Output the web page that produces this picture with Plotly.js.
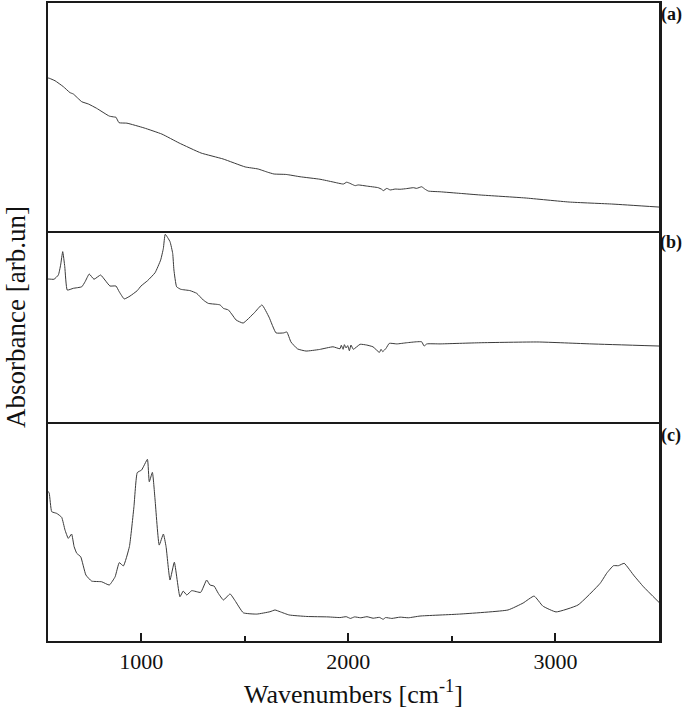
<!DOCTYPE html>
<html>
<head>
<meta charset="utf-8">
<script src="https://cdn.plot.ly/plotly-3.0.1.min.js"></script>
<style>html,body{margin:0;padding:0;background:#fff;}#chart{width:685px;height:709px;}</style>
</head>
<body>
<div id="chart"></div>
<script>
// Panel (a)
const wnA = [550, 556, 584, 624, 656, 672, 713, 745, 785, 846, 870, 878, 893, 931, 1014, 1100, 1183, 1289, 1395, 1502, 1564, 1610, 1641, 1700, 1767, 1863, 1926, 1976, 1992, 2008, 2017, 2033, 2048, 2089, 2144, 2161, 2169, 2186, 2202, 2226, 2250, 2282, 2314, 2330, 2354, 2371, 2387, 2443, 2540, 2636, 2853, 3066, 3278, 3500];
const absA = [0.671, 0.670, 0.659, 0.633, 0.607, 0.601, 0.567, 0.557, 0.538, 0.504, 0.500, 0.499, 0.475, 0.473, 0.452, 0.425, 0.386, 0.342, 0.316, 0.281, 0.272, 0.258, 0.250, 0.248, 0.238, 0.227, 0.215, 0.206, 0.214, 0.209, 0.205, 0.199, 0.202, 0.197, 0.190, 0.183, 0.177, 0.187, 0.180, 0.184, 0.183, 0.186, 0.190, 0.187, 0.194, 0.183, 0.175, 0.172, 0.165, 0.158, 0.145, 0.127, 0.118, 0.105];

// Panel (b)
const wnB = [550, 556, 579, 600, 611, 621, 631, 643, 672, 713, 729, 749, 772, 804, 825, 849, 878, 894, 918, 946, 981, 999, 1030, 1067, 1094, 1107, 1116, 1139, 1152, 1158, 1171, 1191, 1236, 1268, 1300, 1324, 1365, 1381, 1397, 1421, 1440, 1458, 1492, 1545, 1583, 1617, 1651, 1688, 1703, 1723, 1755, 1796, 1860, 1926, 1960, 1966, 1975, 1981, 1989, 1997, 2005, 2013, 2024, 2057, 2089, 2119, 2150, 2158, 2166, 2182, 2198, 2234, 2282, 2330, 2354, 2366, 2379, 2443, 2636, 2916, 3172, 3500];
const absB = [0.751, 0.751, 0.750, 0.772, 0.824, 0.893, 0.815, 0.694, 0.703, 0.711, 0.737, 0.777, 0.750, 0.772, 0.746, 0.715, 0.715, 0.685, 0.648, 0.663, 0.691, 0.715, 0.742, 0.784, 0.850, 0.910, 0.983, 0.945, 0.884, 0.798, 0.711, 0.698, 0.691, 0.677, 0.642, 0.625, 0.620, 0.617, 0.599, 0.591, 0.565, 0.539, 0.523, 0.575, 0.617, 0.554, 0.472, 0.472, 0.477, 0.425, 0.389, 0.378, 0.386, 0.400, 0.390, 0.408, 0.387, 0.411, 0.394, 0.406, 0.380, 0.409, 0.387, 0.413, 0.409, 0.400, 0.371, 0.387, 0.375, 0.392, 0.418, 0.415, 0.421, 0.426, 0.426, 0.404, 0.415, 0.415, 0.421, 0.425, 0.415, 0.404];

// Panel (c)
const wnC = [550, 556, 568, 592, 616, 632, 648, 664, 676, 689, 708, 733, 761, 809, 846, 874, 894, 914, 943, 965, 981, 1002, 1030, 1039, 1054, 1067, 1087, 1107, 1120, 1139, 1160, 1187, 1203, 1220, 1244, 1287, 1316, 1332, 1352, 1372, 1397, 1429, 1453, 1493, 1558, 1622, 1646, 1670, 1714, 1800, 1902, 1960, 1990, 2010, 2030, 2060, 2090, 2120, 2150, 2168, 2180, 2210, 2250, 2290, 2346, 2537, 2771, 2844, 2897, 2939, 3003, 3109, 3216, 3248, 3280, 3304, 3332, 3352, 3377, 3425, 3500];
const absC = [0.690, 0.681, 0.596, 0.588, 0.570, 0.512, 0.473, 0.493, 0.435, 0.404, 0.388, 0.304, 0.276, 0.273, 0.258, 0.296, 0.361, 0.346, 0.435, 0.619, 0.776, 0.788, 0.837, 0.734, 0.777, 0.650, 0.442, 0.493, 0.435, 0.281, 0.363, 0.204, 0.230, 0.212, 0.232, 0.224, 0.281, 0.258, 0.253, 0.220, 0.189, 0.217, 0.186, 0.130, 0.124, 0.135, 0.143, 0.135, 0.120, 0.113, 0.111, 0.108, 0.112, 0.104, 0.111, 0.107, 0.112, 0.105, 0.109, 0.100, 0.108, 0.104, 0.110, 0.107, 0.115, 0.124, 0.143, 0.175, 0.207, 0.161, 0.134, 0.166, 0.266, 0.313, 0.347, 0.347, 0.358, 0.336, 0.304, 0.250, 0.178];

const tickVals = [1000, 2000, 3000];
const tickText = ['1000', '2000', '3000'];
const panelLabels = ['(a)', '(b)', '(c)'];
const xTitle = 'Wavenumbers [cm<sup>-1</sup>]';
const yTitle = 'Absorbance [arb.un]';

const SERIF = 'Liberation Serif, Times New Roman, serif';
const lineStyle = {color: '#3a3a3a', width: 1, shape: 'spline', smoothing: 0.4};

const traces = [
  {x: wnA, y: absA, xaxis: 'x3', yaxis: 'y3', mode: 'lines', line: lineStyle, hoverinfo: 'skip'},
  {x: wnB, y: absB, xaxis: 'x2', yaxis: 'y2', mode: 'lines', line: lineStyle, hoverinfo: 'skip'},
  {x: wnC, y: absC, xaxis: 'x', yaxis: 'y', mode: 'lines', line: lineStyle, hoverinfo: 'skip'}
];

const frameColor = '#1a1a1a';
const baseX = {
  range: [550, 3500], showline: true, mirror: true, linewidth: 2, linecolor: frameColor,
  showgrid: false, zeroline: false, fixedrange: true
};
const baseY = {
  range: [0, 1], showline: true, mirror: true, linewidth: 2.5, linecolor: frameColor,
  showgrid: false, zeroline: false, ticks: '', showticklabels: false, fixedrange: true
};

const hC = 217 / 638, hB = 410 / 638;

const layout = {
  width: 685, height: 709,
  margin: {l: 48, r: 26, t: 3, b: 68},
  paper_bgcolor: '#ffffff', plot_bgcolor: '#ffffff',
  showlegend: false,
  font: {family: SERIF, color: '#111'},
  xaxis: Object.assign({}, baseX, {
    anchor: 'y', tickmode: 'array', tickvals: tickVals, ticktext: tickText,
    ticks: 'inside', ticklen: 8, tickwidth: 2, tickcolor: frameColor,
    tickfont: {family: SERIF, size: 22, color: '#111'},
    minor: {tickmode: 'array', tickvals: [1500, 2500], ticks: 'inside', ticklen: 5, tickwidth: 1.5, tickcolor: frameColor, showgrid: false}
  }),
  xaxis2: Object.assign({}, baseX, {anchor: 'y2', matches: 'x', ticks: '', showticklabels: false, showline: false}),
  xaxis3: Object.assign({}, baseX, {anchor: 'y3', matches: 'x', ticks: '', showticklabels: false}),
  yaxis: Object.assign({}, baseY, {domain: [0, hC], anchor: 'x'}),
  yaxis2: Object.assign({}, baseY, {domain: [hC, hB], anchor: 'x2'}),
  yaxis3: Object.assign({}, baseY, {domain: [hB, 1], anchor: 'x3'}),
  annotations: [
    {text: xTitle, xref: 'paper', yref: 'paper', x: 0.5, y: -(692 - 641) / 638, xanchor: 'center', yanchor: 'middle', showarrow: false, font: {family: SERIF, size: 26, color: '#111'}},
    {text: yTitle, xref: 'paper', yref: 'paper', x: -(48 - 16) / 611, y: (641 - 317) / 638, xanchor: 'center', yanchor: 'middle', textangle: -90, showarrow: false, font: {family: SERIF, size: 27, color: '#111'}},
    {text: '<b>' + panelLabels[0] + '</b>', xref: 'paper', yref: 'paper', x: (671 - 48) / 611, y: (641 - 14) / 638, xanchor: 'center', yanchor: 'middle', showarrow: false, font: {family: SERIF, size: 18, color: '#111'}},
    {text: '<b>' + panelLabels[1] + '</b>', xref: 'paper', yref: 'paper', x: (671 - 48) / 611, y: (641 - 242) / 638, xanchor: 'center', yanchor: 'middle', showarrow: false, font: {family: SERIF, size: 18, color: '#111'}},
    {text: '<b>' + panelLabels[2] + '</b>', xref: 'paper', yref: 'paper', x: (671 - 48) / 611, y: (641 - 435) / 638, xanchor: 'center', yanchor: 'middle', showarrow: false, font: {family: SERIF, size: 18, color: '#111'}}
  ]
};

Plotly.newPlot('chart', traces, layout, {staticPlot: true, displayModeBar: false});
</script>
</body>
</html>
